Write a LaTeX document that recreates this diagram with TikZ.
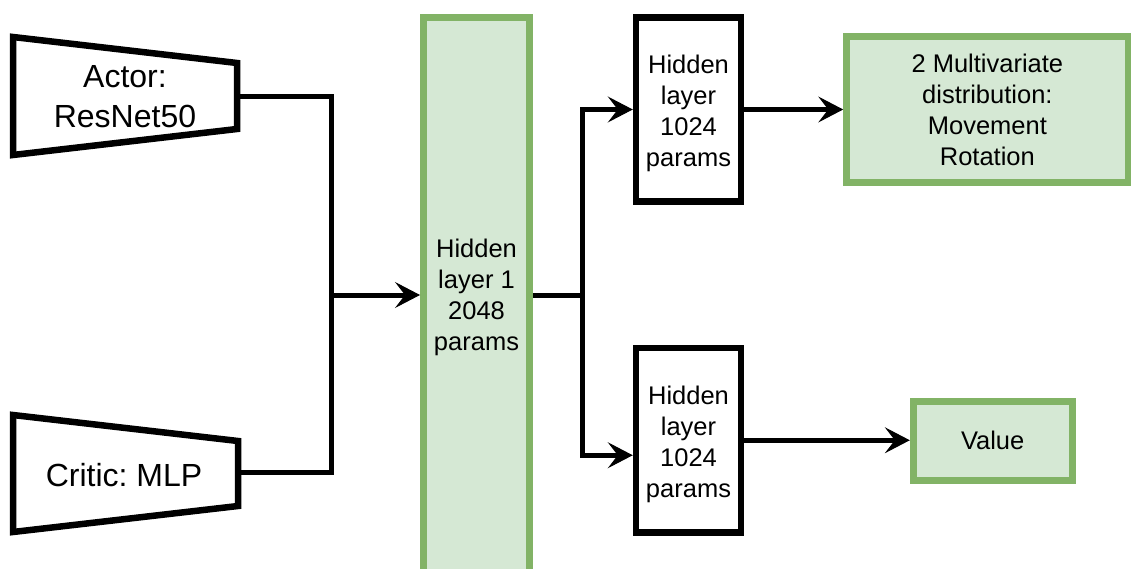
\documentclass[tikz,border=0pt]{standalone}
\usepackage{fontspec}
\setmainfont{Liberation Sans}
\usetikzlibrary{arrows.meta,calc}
\definecolor{greenfill}{HTML}{D5E8D4}
\definecolor{greenline}{HTML}{82B366}
\frenchspacing
\begin{document}
\begin{tikzpicture}[x=1pt,y=-1pt,
  txt/.style={align=center, font=\fontsize{25.5}{31}\selectfont, inner sep=0pt},
  bigtxt/.style={align=center, font=\fontsize{32}{40}\selectfont, inner sep=0pt},
  layerbox/.style={draw=black, line width=6.5pt, fill=white, minimum width=105pt, minimum height=184pt, inner sep=0pt},
  outbox/.style={draw=greenline, fill=greenfill, line width=7pt, inner sep=0pt},
  funnel/.style={draw=black, line width=6.5pt, line join=miter},
  wire/.style={line width=5pt},
  flow/.style={wire, -{Stealth[length=25pt, width=26pt, inset=10pt, line width=1pt]}},
]
\useasboundingbox (0,0) rectangle (1131,569);
\clip (0,0) rectangle (1131,569);

% encoders
\draw[funnel] (13,37) -- (237,63) -- (237,129) -- (13,155) -- cycle;
\node[bigtxt] (actor) at (125,96.5) {Actor:\\ResNet50};
\coordinate (actorout) at (240.25,97);
\draw[funnel] (13,415) -- (238,441) -- (238,506) -- (13,532) -- cycle;
\node[bigtxt] (critic) at (124,475) {Critic: MLP};
\coordinate (criticout) at (241.25,472);

% shared hidden layer (runs off the bottom edge)
\node[outbox, minimum width=106pt, minimum height=620pt, anchor=north] (mid) at (476.5,14) {};
\node[txt] (midtxt) at (476.5,297) {Hidden\\layer 1\\2048\\params};

% heads
\node[layerbox] (h1) at (688.5,109.5) {};
\node[txt] (h1txt) at (688.5,113) {Hidden\\layer\\1024\\params};
\node[layerbox, minimum height=184.5pt] (h2) at (688.5,440.25) {};
\node[txt] (h2txt) at (688.5,444) {Hidden\\layer\\1024\\params};

\node[outbox, txt, minimum width=281.3pt, minimum height=145.7pt] (pol) at (987.35,109.85)
  {2 Multivariate\\distribution:\\Movement\\Rotation};
\node[outbox, txt, minimum width=158.7pt, minimum height=79pt] (val) at (992.65,440.5) {Value};

% connectors
\coordinate (merge) at (331,295);
\coordinate (split) at (582.5,295);
\draw[wire] (actorout) -| (merge) |- (criticout);
\draw[flow] (merge) -- (mid.west |- merge);
\draw[wire] (mid.east |- split) -- (split);
\draw[flow] (split) |- (h1.west);
\draw[flow] (split) |- ($(h2.west)+(0,15)$);
\draw[flow] (h1.east) -- (pol.west |- h1.east);
\draw[flow] (h2.east) -- (val.west |- h2.east);
\end{tikzpicture}
\end{document}
